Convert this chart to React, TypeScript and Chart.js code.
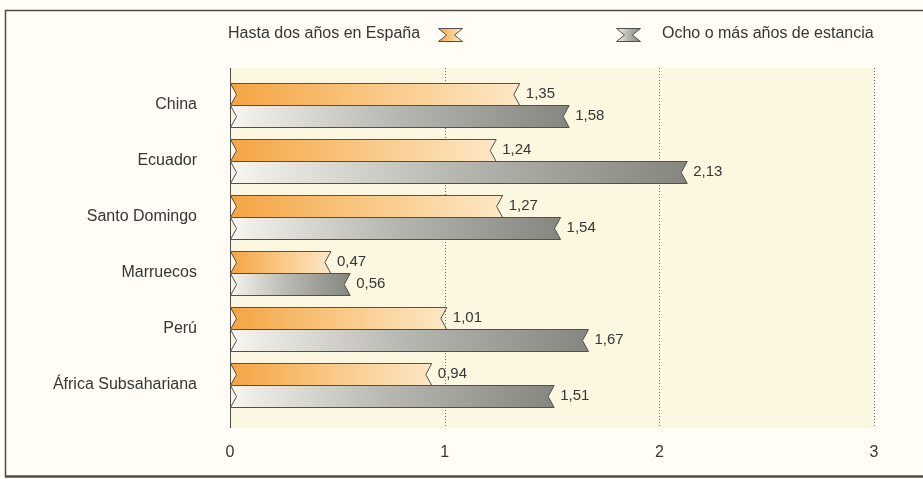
import React, { useEffect, useRef } from 'react';
import { Chart, registerables } from 'chart.js';

Chart.register(...registerables);

const categories = ['China', 'Ecuador', 'Santo Domingo', 'Marruecos', 'Perú', 'África Subsahariana'];
const hastaDosAnos = [1.35, 1.24, 1.27, 0.47, 1.01, 0.94];
const ochoOMasAnos = [1.58, 2.13, 1.54, 0.56, 1.67, 1.51];
const seriesLabels = ['Hasta dos años en España', 'Ocho o más años de estancia'];
const xTicks = [0, 1, 2, 3];

const FONT = '"Liberation Sans", Arial, Helvetica, sans-serif';
const TEXT = '#363636';

const gradStops = [
  [['0', '#f5a443'], ['0.5', '#f9c885'], ['1', '#fde7c6']],
  [['0', '#f8f7f1'], ['0.08', '#ebeae4'], ['0.5', '#b6b6b0'], ['1', '#868681']],
];

const fmt = (v: number) => v.toFixed(2).replace('.', ',');

function makeGrad(ctx: CanvasRenderingContext2D, x0: number, x1: number, idx: number) {
  const g = ctx.createLinearGradient(x0, 0, x1, 0);
  gradStops[idx].forEach(([o, c]) => g.addColorStop(parseFloat(o), c));
  return g;
}

function ribbonPath(ctx: CanvasRenderingContext2D, left: number, right: number, top: number, bottom: number, nl: number, nr: number) {
  const mid = (top + bottom) / 2;
  ctx.beginPath();
  ctx.moveTo(left, top);
  ctx.lineTo(right, top);
  ctx.lineTo(right - nr, mid);
  ctx.lineTo(right, bottom);
  ctx.lineTo(left, bottom);
  ctx.lineTo(left + nl, mid);
  ctx.closePath();
}

const decorPlugin = {
  id: 'decor',
  beforeDraw(chart: any) {
    const { ctx, chartArea, scales } = chart;
    const xs = scales.x;
    ctx.save();
    ctx.fillStyle = '#fffdf6';
    ctx.fillRect(0, 0, chart.width, chart.height);
    const pl = xs.getPixelForValue(xTicks[0]);
    const pr = xs.getPixelForValue(xTicks[xTicks.length - 1]);
    ctx.fillStyle = '#fcf7e1';
    ctx.fillRect(pl, chartArea.top - 9, pr - pl, chartArea.bottom - chartArea.top + 24);
    ctx.strokeStyle = '#4a4a4a';
    ctx.lineWidth = 1.5;
    ctx.beginPath();
    ctx.moveTo(923, 10.5);
    ctx.lineTo(5.5, 10.5);
    ctx.lineTo(5.5, 477);
    ctx.stroke();
    ctx.lineWidth = 2.5;
    ctx.beginPath();
    ctx.moveTo(5, 476.5);
    ctx.lineTo(923, 476.5);
    ctx.stroke();
    ctx.restore();
  },
  beforeDatasetsDraw(chart: any) {
    const { ctx, chartArea, scales } = chart;
    const xs = scales.x;
    const top = chartArea.top - 9;
    const bottom = chartArea.bottom + 15;
    ctx.save();
    xTicks.forEach((t) => {
      const px = Math.round(xs.getPixelForValue(t)) + 0.5;
      ctx.beginPath();
      if (t === 0) {
        ctx.setLineDash([]);
        ctx.strokeStyle = '#4d4d4d';
      } else {
        ctx.setLineDash([1, 2]);
        ctx.strokeStyle = '#6d6d6d';
      }
      ctx.lineWidth = 1;
      ctx.moveTo(px, top);
      ctx.lineTo(px, bottom);
      ctx.stroke();
    });
    ctx.restore();
  },
  afterDatasetsDraw(chart: any) {
    const { ctx } = chart;
    ctx.save();
    chart.data.datasets.forEach((ds: any, di: number) => {
      const meta = chart.getDatasetMeta(di);
      meta.data.forEach((el: any, i: number) => {
        const p = el.getProps(['x', 'y', 'base', 'height'], true);
        const left = Math.round(p.base) + 0.5;
        const right = p.x;
        const top = Math.round(p.y - p.height / 2) + 0.5;
        const bottom = Math.round(p.y + p.height / 2) + 0.5;
        ribbonPath(ctx, left, right, top, bottom, 6, 6);
        ctx.fillStyle = makeGrad(ctx, left, right, di);
        ctx.fill();
        ctx.strokeStyle = '#505050';
        ctx.lineWidth = 1;
        ctx.stroke();
        ctx.fillStyle = TEXT;
        ctx.font = `15px ${FONT}`;
        ctx.textAlign = 'left';
        ctx.textBaseline = 'middle';
        ctx.fillText(fmt(ds.data[i]), right + 6, (top + bottom) / 2 - 1);
      });
    });
    ctx.restore();
  },
  afterDraw(chart: any) {
    const { ctx } = chart;
    ctx.save();
    ctx.font = `16px ${FONT}`;
    ctx.fillStyle = TEXT;
    ctx.textBaseline = 'middle';
    ctx.textAlign = 'left';
    ctx.fillText(seriesLabels[0], 228, 34);
    const icon = (x: number, idx: number) => {
      ribbonPath(ctx, x, x + 24, 28.5, 41.5, 8, 8);
      ctx.fillStyle = makeGrad(ctx, x, x + 24, idx);
      ctx.fill();
      ctx.strokeStyle = '#505050';
      ctx.lineWidth = 1;
      ctx.stroke();
    };
    icon(438.5, 0);
    icon(616.5, 1);
    ctx.fillStyle = TEXT;
    ctx.fillText(seriesLabels[1], 662, 34);
    ctx.restore();
  },
};

export default function App() {
  const ref = useRef<HTMLCanvasElement>(null);
  useEffect(() => {
    if (!ref.current) return;
    const chart = new Chart(ref.current, {
      type: 'bar',
      data: {
        labels: categories,
        datasets: [
          {
            label: seriesLabels[0],
            data: hastaDosAnos,
            backgroundColor: 'rgba(0,0,0,0)',
            borderWidth: 0,
            categoryPercentage: 44 / 56,
            barPercentage: 1,
          },
          {
            label: seriesLabels[1],
            data: ochoOMasAnos,
            backgroundColor: 'rgba(0,0,0,0)',
            borderWidth: 0,
            categoryPercentage: 44 / 56,
            barPercentage: 1,
          },
        ],
      },
      options: {
        indexAxis: 'y',
        responsive: false,
        animation: false,
        devicePixelRatio: 1,
        layout: { padding: { top: 77, right: 49, bottom: 0, left: 0 } },
        plugins: { legend: { display: false }, tooltip: { enabled: false } },
        scales: {
          y: {
            type: 'category',
            grid: { display: false, drawTicks: false },
            border: { display: false },
            ticks: { color: TEXT, font: { family: FONT, size: 16 }, padding: 33 },
            afterFit: (s: any) => {
              s.width = 230;
            },
          },
          x: {
            type: 'linear',
            min: xTicks[0],
            max: xTicks[xTicks.length - 1],
            grid: { display: false, drawTicks: false },
            border: { display: false },
            ticks: {
              stepSize: 1,
              color: TEXT,
              font: { family: FONT, size: 16 },
              padding: 30,
              callback: (v: any) => String(v),
            },
            afterFit: (s: any) => {
              s.height = 66;
            },
          },
        },
      } as any,
      plugins: [decorPlugin],
    });
    return () => chart.destroy();
  }, []);
  return (
    <div style={{ position: 'absolute', left: 0, top: 0, width: 923, height: 479 }}>
      <canvas ref={ref} width={923} height={479} style={{ display: 'block' }} />
    </div>
  );
}
